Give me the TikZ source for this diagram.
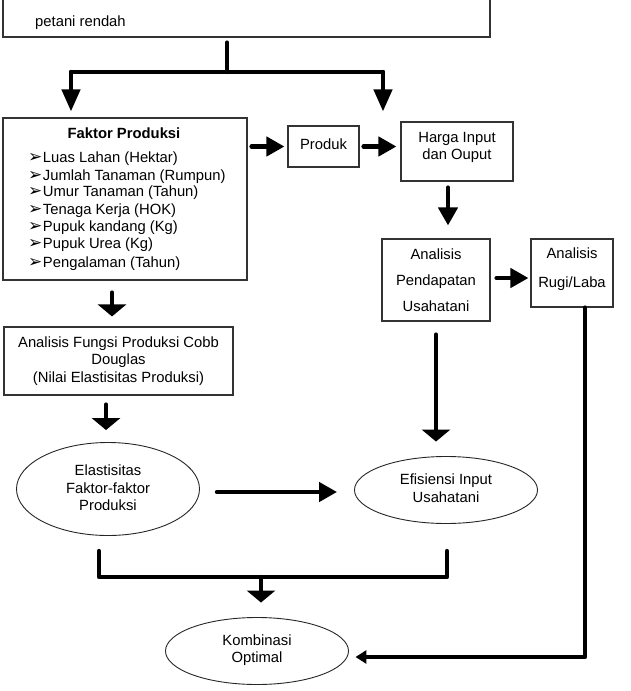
\documentclass[tikz,border=0pt]{standalone}
\usepackage{fontspec}
\setmainfont{Liberation Sans}
\newfontfamily\dejavu{DejaVu Sans}
\usetikzlibrary{arrows.meta,shapes.geometric}
\newcommand\itemarrow{{\dejavu\fontsize{17}{17}\selectfont ➢}\hspace{0.5pt}}
\begin{document}
\begin{tikzpicture}[x=1pt,y=-1pt,
  box/.style={draw=black!80,line width=1.1pt,rectangle,inner sep=0pt},
  oval/.style={draw=black!85,line width=0.9pt,ellipse,inner sep=0pt},
  txt/.style={font=\fontsize{14.8}{17.5}\selectfont,align=center,inner sep=0pt},
  itm/.style={font=\fontsize{14.8}{17}\selectfont,anchor=west,inner sep=0pt,text height=10.5pt,text depth=3pt},
  thk/.style={line width=4.3pt,line cap=round,line join=round},
  tipA/.style={-{Triangle[length=22pt,width=18pt]}},
  tipB/.style={-{Triangle[length=18pt,width=19pt]}},
  tipC/.style={-{Triangle[length=12pt,width=28pt]}},
  tipD/.style={-{Triangle[length=11pt,width=13pt]}}
]
\useasboundingbox (0,0) rectangle (630,691);
\begin{scope}
\clip (0,0) rectangle (630,691);
\node[box,minimum width=487pt,minimum height=60pt] (top) at (246.5,7) {};
\end{scope}
\node[txt,anchor=west] (toptxt) at (35,23) {petani rendah};

% Faktor Produksi
\node[box,minimum width=244pt,minimum height=162pt] (fp) at (125,199) {};
\node[txt,font=\bfseries\fontsize{14.8}{17}\selectfont] (fpt) at (124,133) {Faktor Produksi};
\node[itm] (i1) at (28,159) {\itemarrow Luas Lahan (Hektar)};
\node[itm] (i2) at (28,177) {\itemarrow Jumlah Tanaman (Rumpun)};
\node[itm] (i3) at (28,193) {\itemarrow Umur Tanaman (Tahun)};
\node[itm] (i4) at (28,211) {\itemarrow Tenaga Kerja (HOK)};
\node[itm] (i5) at (28,228) {\itemarrow Pupuk kandang (Kg)};
\node[itm] (i6) at (28,245) {\itemarrow Pupuk Urea (Kg)};
\node[itm] (i7) at (28,264) {\itemarrow Pengalaman (Tahun)};

% right column boxes
\node[box,minimum width=71pt,minimum height=41pt] (prod) at (323.5,146.5) {};
\node[txt] (prodt) at (323.5,144) {Produk};
\node[box,minimum width=112pt,minimum height=59pt] (harga) at (457,151.5) {};
\node[txt] (hargat) at (457,147.5) {Harga Input\\dan Ouput};
\node[box,minimum width=108pt,minimum height=82pt] (pend) at (436,280) {};
\node[txt,font=\fontsize{14.8}{26}\selectfont] (pendt) at (436,280) {Analisis\\Pendapatan\\Usahatani};
\node[box,minimum width=82pt,minimum height=68pt] (rugi) at (572,273) {};
\node[txt,font=\fontsize{14.8}{29}\selectfont] (rugit) at (572,269) {Analisis\\Rugi/Laba};

% Cobb Douglas
\node[box,minimum width=229pt,minimum height=68pt] (cobb) at (118.5,361) {};
\node[txt] (cobbt) at (118.5,361) {Analisis Fungsi Produksi Cobb\\Douglas\\(Nilai Elastisitas Produksi)};

% ellipses
\node[oval,minimum width=183pt,minimum height=93pt] (elas) at (108,489) {};
\node[txt] (elast) at (108,488) {Elastisitas\\Faktor-faktor\\Produksi};
\node[oval,minimum width=183pt,minimum height=67pt] (efis) at (446,490) {};
\node[txt] (efist) at (446,488) {Efisiensi Input\\Usahatani};
\node[oval,minimum width=183pt,minimum height=67pt] (komb) at (257,651) {};
\node[txt] (kombt) at (257,650) {Kombinasi\\Optimal};

% top tree
\coordinate (jc) at (227,72);
\coordinate (jl) at (71,72);
\coordinate (jr) at (383,72);
\draw[thk,shorten <=5pt] (jc |- top.south) -- (jc);
\draw[thk] (jl) -- (jr);
\draw[thk,tipA,shorten >=6pt] (jl) -- (jl |- fp.north);
\draw[thk,tipA,shorten >=10pt] (jr) -- (jr |- harga.north);

% horizontal small arrows
\draw[thk,tipB,shorten <=4pt,shorten >=3pt] (fp.east |- prod.west) -- (prod.west);
\draw[thk,tipB,shorten <=4pt,shorten >=4pt] (prod.east) -- (harga.west |- prod.east);
\coordinate (hs) at ([xshift=-9pt]harga.south);
\draw[thk,tipB,shorten <=6pt,shorten >=13pt] (hs) -- (hs |- pend.north);
\coordinate (pe) at ([yshift=2pt]pend.east);
\draw[thk,tipB,shorten <=6pt,shorten >=2pt] (pe) -- (pe -| rugi.west);

% left column arrows
\coordinate (fs) at ([xshift=-13pt]fp.south);
\draw[thk,tipC,shorten <=12pt,shorten >=10pt] (fs) -- (fs |- cobb.north);
\coordinate (en) at ([xshift=-2pt]elas.north);
\draw[thk,tipC,shorten <=9pt,shorten >=12pt] (en |- cobb.south) -- (en);
\coordinate (ee) at ([yshift=-3pt]elas.east);
\draw[thk,tipB,shorten <=17pt,shorten >=17pt] (ee) -- (ee -| efis.west);
\draw[thk,tipC,shorten <=13pt,shorten >=14.5pt] (pend.south) -- (pend.south |- efis.north);

% bracket
\coordinate (bl) at (99,551);
\coordinate (blb) at (99,577);
\coordinate (brb) at (447,577);
\coordinate (br) at (447,551);
\draw[thk] (bl) -- (blb) -- (brb) -- (br);
\coordinate (bs) at (261,577);
\draw[thk,tipC,shorten >=14.5pt] (bs) -- (bs |- komb.north);

% rugi/laba to kombinasi
\coordinate (rk) at (585,657);
\draw[thk,tipD,shorten >=6.5pt] (rk |- rugi.south) -- (rk) -- (rk -| komb.east);
\end{tikzpicture}
\end{document}
